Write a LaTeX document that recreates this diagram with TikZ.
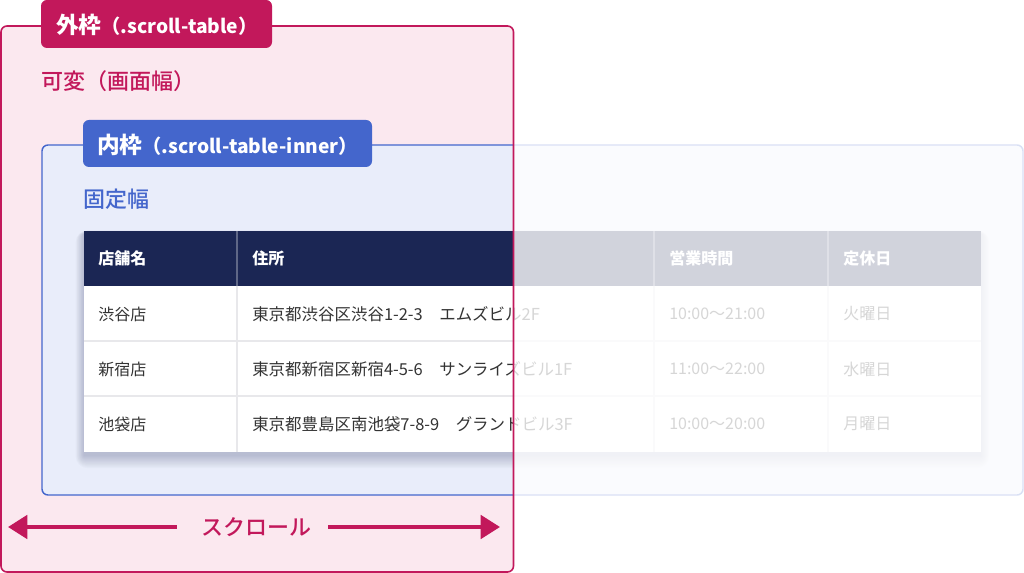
\documentclass[tikz,border=0pt]{standalone}
\usepackage{fontspec}
\setmainfont{Noto Sans CJK JP}
\newfontfamily\medfont{Noto Sans CJK JP Medium}
\usetikzlibrary{arrows.meta}
\definecolor{cred}{RGB}{194,24,91}
\definecolor{cpink}{RGB}{251,232,239}
\definecolor{cblue}{RGB}{68,102,204}
\definecolor{cbluefill}{RGB}{233,237,250}
\definecolor{cnavy}{RGB}{27,38,84}
\definecolor{cgrid}{RGB}{232,232,235}
\definecolor{ctext}{RGB}{51,51,51}
\newcommand{\bigkj}[1]{{\fontsize{17pt}{20pt}\selectfont #1}}
\tikzset{
  labtext/.style={font=\fontsize{14.4pt}{18pt}\selectfont\bfseries, text=white, inner sep=0pt, anchor=west},
  subtext/.style={font=\fontsize{16.5pt}{20pt}\medfont, inner sep=0pt, anchor=west},
  headtext/.style={font=\fontsize{12pt}{14pt}\selectfont\bfseries, text=white, inner sep=0pt, anchor=west},
  celltext/.style={font=\fontsize{12pt}{14pt}\selectfont, text=ctext, inner sep=0pt, anchor=west},
  addrtext/.style={celltext, font=\fontsize{12.35pt}{14pt}\selectfont},
  gridline/.style={draw=cgrid, line width=0.9pt},
  headline/.style={draw=white, draw opacity=0.3, line width=0.9pt},
  scrollline/.style={draw=cred, line width=3pt},
}
\begin{document}
\begin{tikzpicture}[x=0.75pt,y=-0.75pt]
\useasboundingbox (0,0) rectangle (1024,573);
\fill[white] (0,0) rectangle (1024,573);
% outer frame fill
\fill[cpink, rounded corners=4.5pt] (1,26) rectangle (513.5,572);
% inner frame
\filldraw[fill=cbluefill, draw=cblue, line width=1.1pt, rounded corners=4.5pt] (42,145) rectangle (1023,495);
% shadow
\foreach \i in {1,...,12}{
  \fill[cnavy, opacity=0.018, rounded corners=\i*0.75pt] (84-\i*0.7, 234-\i*0.3) rectangle (981+\i*0.7, 455+\i*1.1);
}
% table
\fill[cnavy] (84,231) rectangle (981,286);
\fill[white] (84,286) rectangle (981,452);
\draw[gridline] (84,341) -- (981,341);
\draw[gridline] (84,396) -- (981,396);
\foreach \x in {237,654,828}{
  \draw[gridline] (\x,286) -- (\x,452);
  \draw[headline] (\x,231) -- (\x,286);
}
% header texts
\node[headtext] (h1) at (98,258) {店舗名};
\node[headtext] (h2) at (252,258) {住所};
\node[headtext] (h3) at (669,258) {営業時間};
\node[headtext] (h4) at (843,258) {定休日};
% rows
\node[celltext] (r1c1) at (98,314) {渋谷店};
\node[addrtext] (r1c2) at (252,314) {東京都渋谷区渋谷1-2-3　エムズビル2F};
\node[celltext] (r1c3) at (669,314) {10:00〜21:00};
\node[celltext] (r1c4) at (843,314) {火曜日};
\node[celltext] (r2c1) at (98,369) {新宿店};
\node[addrtext] (r2c2) at (252,369) {東京都新宿区新宿4-5-6　サンライズビル1F};
\node[celltext] (r2c3) at (669,369) {11:00〜22:00};
\node[celltext] (r2c4) at (843,369) {水曜日};
\node[celltext] (r3c1) at (98,424) {池袋店};
\node[addrtext] (r3c2) at (252,424) {東京都豊島区南池袋7-8-9　グランドビル3F};
\node[celltext] (r3c3) at (669,424) {10:00〜20:00};
\node[celltext] (r3c4) at (843,424) {月曜日};
% fade outside the outer frame
\fill[white, opacity=0.8] (514.2,0) rectangle (1024,573);
% outer frame border
\draw[cred, line width=1.2pt, rounded corners=4.5pt] (1,26) rectangle (513.5,572);
% labels
\fill[cred, rounded corners=4.5pt] (41,0) rectangle (272,48);
\node[labtext] (outerlab) at (56,25) {\bigkj{外枠}（.scroll-table）};
\node[subtext, text=cred] (outersub) at (41,81) {可変（画面幅）};
\fill[cblue, rounded corners=4.5pt] (83,120) rectangle (372,167);
\node[labtext] (innerlab) at (97,145) {\bigkj{内枠}（.scroll-table-inner）};
\node[subtext, text=cblue] (innersub) at (83,199) {固定幅};
% scroll
\node[subtext, text=cred, anchor=center] (scroll) at (256,527) {スクロール};
\coordinate (lt) at (8,527);
\coordinate (rt) at (500,527);
\draw[scrollline, -{Triangle[length=14.5pt,width=17.5pt]}] (scroll.west) ++(-24,0) -- (lt);
\draw[scrollline, -{Triangle[length=14.5pt,width=17.5pt]}] (scroll.east) ++(17,0) -- (rt);
\end{tikzpicture}
\end{document}
